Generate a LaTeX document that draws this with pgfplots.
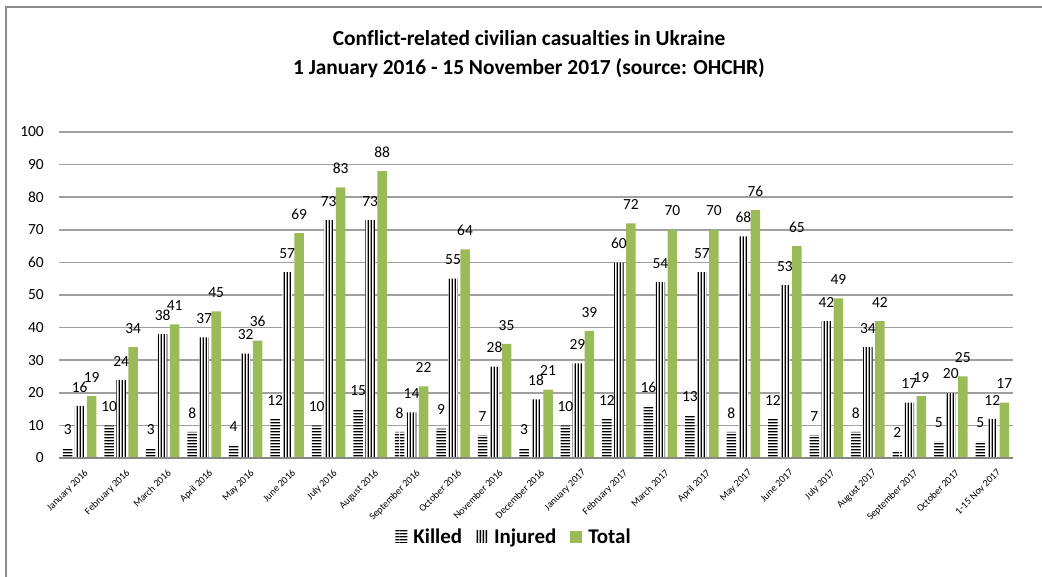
\documentclass[border=0pt]{standalone}
\usepackage{pgfplots}
\pgfplotsset{compat=1.18}
\usepackage{pgfplotstable}
\usepackage{fontspec}
\setmainfont{Carlito}[Ligatures={NoCommon,NoContextual}]
\usetikzlibrary{patterns}
\definecolor{totalgreen}{HTML}{9BBB59}
\definecolor{gridgray}{HTML}{A0A0A0}
\definecolor{framegray}{HTML}{8C8C8C}
\pgfdeclarepatternformonly{hstripes}{\pgfpointorigin}{\pgfqpoint{100bp}{3bp}}{\pgfqpoint{100bp}{3bp}}{%
  \pgfpathrectangle{\pgfqpoint{0bp}{0.7bp}}{\pgfqpoint{100bp}{1.6bp}}\pgfusepath{fill}}
\pgfdeclarepatternformonly{vstripes}{\pgfpointorigin}{\pgfqpoint{3.2bp}{100bp}}{\pgfqpoint{3.2bp}{100bp}}{%
  \pgfpathrectangle{\pgfqpoint{0.8bp}{0bp}}{\pgfqpoint{1.6bp}{100bp}}\pgfusepath{fill}}

\pgfplotstableread{
x killed injured total
0 3 16 19
1 10 24 34
2 3 38 41
3 8 37 45
4 4 32 36
5 12 57 69
6 10 73 83
7 15 73 88
8 8 14 22
9 9 55 64
10 7 28 35
11 3 18 21
12 10 29 39
13 12 60 72
14 16 54 70
15 13 57 70
16 8 68 76
17 12 53 65
18 7 42 49
19 8 34 42
20 2 17 19
21 5 20 25
22 5 12 17
}\data

\begin{document}
\begin{tikzpicture}[x=1bp,y=1bp]
\useasboundingbox (0,0) rectangle (1042,577);
\draw[line width=2bp, framegray] (6,-10) -- (6,570) -- (1050,570);
\node[font=\bfseries\fontsize{21.5}{29}\selectfont, align=center] at (529,523)
  {Conflict-related civilian casualties in Ukraine\\1 January 2016 - 15 November 2017 (source: OHCHR)};
\begin{axis}[
  at={(59bp,119bp)}, anchor=south west, scale only axis,
  width=954bp, height=326bp,
  ybar=2.5bp, bar width=9.5bp,
  xmin=-0.5, xmax=22.5, ymin=0, ymax=100,
  ytick={0,10,...,100},
  xtick=data,
  xticklabels={January 2016, February 2016, March 2016, April 2016, May 2016, June 2016, July 2016, August 2016, September 2016, October 2016, November 2016, December 2016, January 2017, February 2017, March 2017, April 2017, May 2017, June 2017, July 2017, August 2017, September 2017, October 2017, 1-15 Nov 2017},
  axis line style={draw=none},
  major tick length=0pt,
  ymajorgrids, grid style={gridgray, line width=1.5bp},
  /pgf/number format/assume math mode=true,
  yticklabel style={font=\fontsize{15.5}{17}\selectfont, inner sep=0pt, xshift=-15bp},
  xticklabel style={font=\fontsize{10}{11}\selectfont, inner sep=1bp, xshift=4bp, yshift=-9bp, rotate=45, anchor=north east},
  nodes near coords,
  every node near coord/.append style={font=\fontsize{15.5}{17}\selectfont, inner sep=0pt, yshift=13.5bp, black},
  legend style={at={(0.477,-0.242)}, anchor=center, draw=none, legend columns=3,
    font=\bfseries\fontsize{21}{23}\selectfont,
    /tikz/every even column/.append style={column sep=12bp}},
  legend image code/.code={\draw[#1, draw=none] (0bp,-6bp) rectangle (12bp,6bp); \path (16bp,0bp);},
  clip=false,
]
\addplot[draw=none, fill=white, postaction={pattern=hstripes, pattern color=black}] table[x=x, y=killed] {\data};
\addplot[draw=none, fill=white, postaction={pattern=vstripes, pattern color=black}] table[x=x, y=injured] {\data};
\addplot[draw=none, fill=totalgreen] table[x=x, y=total] {\data};
\draw[gridgray!85!black, line width=2.5bp] (axis cs:-0.5,0) -- (axis cs:22.5,0);
\legend{Killed, Injured, Total}
\end{axis}
\end{tikzpicture}
\end{document}
